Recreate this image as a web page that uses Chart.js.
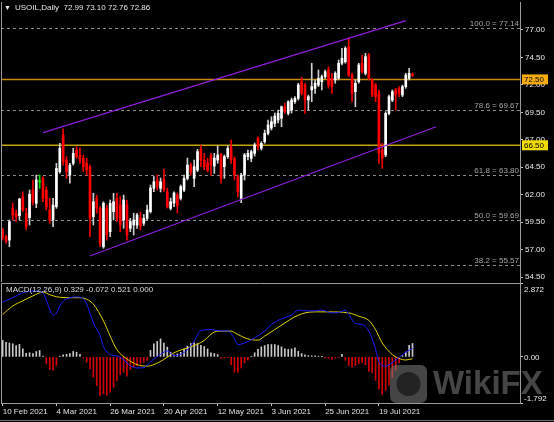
<!DOCTYPE html>
<html>
<head>
<meta charset="UTF-8">
<title>USOIL Daily</title>
<script src="https://cdn.jsdelivr.net/npm/chart.js@4"></script>
<style>
  html, body { margin: 0; padding: 0; background: #000; }
  body { width: 554px; height: 422px; position: relative; overflow: hidden; }
  canvas { position: absolute; left: 0; }
  #priceChart { top: 0; }
  #macdChart { top: 283px; }
</style>
</head>
<body>
<canvas id="priceChart" width="554" height="283"></canvas>
<canvas id="macdChart" width="554" height="139"></canvas>
<script>
const FONT = '"Liberation Sans", Arial, sans-serif';

// daily candles, 10 Feb 2021 .. 2 Aug 2021
const openP = [
  58.79,58.18,57.87,60.79,60.31,60.09,61.82,60.31,59.91,62.43,
  61.22,63.18,63.49,62.43,60.61,59.70,60.91,64.09,67.44,65.16,
  63.79,64.86,66.07,65.62,65.31,64.86,64.55,60.00,61.67,60.76,
  57.26,60.76,58.63,60.45,61.67,61.06,59.70,61.06,58.94,59.24,
  59.24,59.88,59.40,59.85,60.45,62.58,63.34,62.58,63.40,62.27,
  60.76,61.24,61.97,61.67,62.43,63.49,64.70,63.49,64.25,66.13,
  65.16,64.89,65.62,64.61,65.16,65.71,64.55,65.46,66.37,65.31,
  63.64,61.67,63.79,65.46,65.31,65.77,67.14,66.23,66.83,67.59,
  68.07,68.50,68.80,68.96,70.01,69.41,69.71,70.47,70.78,72.29,
  71.99,70.62,71.54,71.69,71.99,72.29,72.75,73.36,72.60,72.45,
  72.60,73.97,74.11,75.48,72.90,71.38,72.29,73.97,73.06,74.72,
  72.45,71.99,71.23,66.07,65.62,69.41,70.62,71.54,71.69,71.08,
  71.84,72.60,72.99
];
const highP = [
  58.94,58.33,59.70,61.24,60.61,61.67,62.27,60.76,62.43,63.34,
  63.79,63.79,63.64,62.73,61.67,61.67,64.86,66.68,67.98,65.46,
  64.86,66.23,66.37,66.28,65.62,65.31,64.70,62.13,61.97,60.91,
  61.36,61.06,61.52,62.13,62.13,61.82,61.97,61.52,59.85,60.31,
  60.31,60.42,60.20,61.06,62.88,63.64,63.79,63.52,64.34,62.61,
  61.70,62.27,62.16,62.88,63.79,65.34,64.89,65.16,66.13,66.53,
  65.77,65.34,65.77,65.77,66.44,65.77,65.62,66.44,66.98,65.46,
  63.79,63.95,65.77,66.07,66.07,66.71,67.28,66.83,67.89,68.80,
  69.10,69.44,69.71,70.08,70.32,70.56,70.81,70.93,72.15,72.69,
  72.15,71.08,73.97,72.45,73.36,72.90,73.36,73.66,73.06,73.20,
  74.27,75.33,75.48,76.30,73.06,72.45,73.97,74.72,74.88,74.88,
  72.60,72.15,71.54,66.68,69.56,71.08,71.54,71.69,71.84,71.99,
  73.06,73.51,73.10
];
const lowP = [
  57.87,57.57,57.26,59.70,59.54,59.70,60.45,58.79,59.24,61.06,
  60.82,62.58,61.36,60.61,59.40,59.09,60.76,63.95,64.70,63.49,
  63.04,64.70,65.31,64.86,64.09,63.79,58.18,59.24,60.31,57.26,
  57.12,57.87,58.18,59.70,59.54,58.63,58.94,57.87,58.63,58.33,
  58.94,58.79,59.20,59.70,60.33,62.27,62.43,62.25,62.27,60.79,
  60.61,60.91,60.33,61.52,62.27,63.34,63.79,62.73,64.09,64.55,
  64.25,64.07,63.79,63.95,64.86,63.04,63.49,65.31,64.86,63.34,
  61.82,61.27,63.34,65.16,65.00,65.52,66.07,66.07,66.68,67.44,
  67.89,68.19,68.53,68.19,69.41,69.26,69.44,70.32,70.62,71.08,
  69.41,69.71,70.47,71.23,71.84,71.54,72.60,71.69,71.23,72.15,
  72.45,73.81,73.97,72.75,70.47,70.01,72.15,73.06,72.90,72.45,
  70.93,70.47,64.86,64.40,65.46,69.26,70.47,69.71,70.93,70.93,
  71.69,72.45,72.76
];
const closeP = [
  58.18,57.72,59.54,60.15,60.00,61.61,60.61,59.09,62.04,61.36,
  63.34,63.18,61.67,60.91,59.70,61.06,64.40,66.23,65.00,64.09,
  64.70,65.77,65.46,65.16,64.55,64.25,59.85,61.36,60.76,57.57,
  61.22,58.33,61.22,61.36,59.85,59.24,61.52,58.33,59.54,59.70,
  60.15,59.15,59.85,60.61,62.61,63.18,62.73,63.18,62.43,60.91,
  61.36,62.16,61.00,62.73,63.49,64.70,64.09,64.55,65.92,65.16,
  64.55,64.25,64.70,65.34,65.62,63.49,65.46,66.23,65.16,63.79,
  62.27,63.79,65.62,65.77,65.92,66.53,66.37,66.68,67.59,68.35,
  68.65,69.17,69.41,70.01,69.56,70.47,70.62,70.78,71.99,71.23,
  70.62,70.93,71.84,72.15,72.60,72.75,73.20,71.99,71.84,73.06,
  73.97,74.42,75.33,72.90,71.23,72.15,73.81,73.20,74.57,72.60,
  71.08,70.93,65.77,65.31,69.41,70.93,71.38,71.08,71.23,71.84,
  72.90,73.06,72.86
];

// MACD histogram, one value per candle
const histValues = [
  0.64,0.57,0.54,0.51,0.44,0.49,0.31,0.14,0.16,0.13,
  0.21,0.25,0.03,-0.27,-0.49,-0.53,-0.34,0.03,0.08,0.10,
  0.13,0.21,0.18,0.10,-0.05,-0.21,-0.47,-0.79,-1.12,-1.50,
  -1.44,-1.50,-1.37,-1.18,-0.92,-0.70,-0.60,-0.75,-0.49,-0.40,
  -0.34,-0.27,-0.21,-0.14,0.25,0.51,0.60,0.70,0.54,0.38,
  0.18,0.08,0.12,0.18,0.30,0.42,0.52,0.55,0.52,0.45,
  0.40,0.31,0.16,0.13,0.09,-0.05,-0.05,-0.02,-0.30,-0.60,
  -0.60,-0.43,-0.23,-0.13,0.03,0.16,0.29,0.39,0.44,0.48,
  0.48,0.48,0.44,0.39,0.31,0.29,0.31,0.35,0.22,0.13,
  0.08,0.05,0.04,0.04,0.03,0.01,-0.04,-0.06,-0.10,-0.04,
  -0.01,0.10,-0.13,-0.34,-0.39,-0.34,-0.26,-0.21,-0.30,-0.56,
  -0.62,-0.91,-1.25,-1.45,-1.30,-1.10,-0.80,-0.52,-0.23,0.05,
  0.19,0.45,0.52
];

// MACD main (blue) and signal (yellow), [candle index, value]
const macdLine = [
  [0,2.13],[3,2.30],[6,2.49],[9,2.56],[12,2.49],[13,2.20],[14,1.85],[15,1.62],[16,1.70],
  [17,1.98],[18,2.16],[20,2.30],[22,2.33],[24,2.26],[25,2.06],[27,1.32],[29,0.82],[30,0.40],
  [32,0.09],[34,0.04],[36,-0.11],[38,-0.35],[40,-0.43],[42,-0.42],[43,-0.32],[45,-0.08],
  [47,0.10],[49,0.23],[51,0.05],[53,0.10],[55,0.28],[57,0.62],[59,1.02],[62,1.06],[65,1.01],
  [67,1.01],[69,0.70],[70,0.48],[72,0.54],[75,0.74],[78,1.01],[80,1.26],[83,1.48],[86,1.63],
  [88,1.82],[90,1.79],[93,1.79],[95,1.82],[98,1.71],[100,1.72],[102,1.82],[103,1.65],
  [105,1.30],[107,1.26],[109,1.00],[110,0.70],[111,0.30],[112,-0.20],[113,-0.34],[114,-0.36],
  [116,-0.22],[118,-0.02],[120,0.18],[122,0.329]
];
const signalLine = [
  [0,1.65],[3,1.98],[6,2.18],[9,2.37],[12,2.52],[14,2.42],[16,2.34],[20,2.30],[23,2.30],
  [25,2.24],[27,2.05],[30,1.40],[32,0.81],[34,0.28],[37,-0.08],[40,-0.30],[43,-0.36],
  [45,-0.30],[48,-0.10],[51,0.16],[54,0.31],[57,0.44],[60,0.64],[62,0.88],[64,1.00],
  [68,1.00],[70,0.87],[73,0.70],[76,0.65],[78,0.81],[81,1.06],[84,1.32],[87,1.56],[90,1.71],
  [93,1.75],[97,1.75],[103,1.71],[106,1.58],[109,1.42],[111,1.06],[113,0.54],[116,0.09],
  [118,-0.06],[120,-0.12],[122,-0.072]
];

// trend channel, [candle index, price]
const upperChannel = [[12,67.65],[120,77.85]];
const lowerChannel = [[26,56.42],[129,68.19]];

const fibPct = ['100.0','78.6','61.8','50.0','38.2'];
const fibPrice = [77.14,69.67,63.80,59.69,55.57];
const levelPrice = [72.50,66.50];

const priceTicks = [54.5,57,59.5,62,64.5,67,69.5,72,74.5,77];
const macdTicks = [2.872,0,-1.792];
const macdTickText = ['2.872','0.00','-1.792'];
const dateTickIndex = [0,16,32,48,64,80,96,112];
const dateTickLabels = ['10 Feb 2021','4 Mar 2021','26 Mar 2021','20 Apr 2021','12 May 2021','3 Jun 2021','25 Jun 2021','19 Jul 2021'];

const titleText = 'USOIL,Daily  72.99 73.10 72.76 72.86';
const macdTitle = 'MACD(12,26,9) 0.329 -0.072 0.521 0.000';

const X_MIN = -0.5, X_MAX = 154;
const levelLine = ['#c98a0c','#c4a40a'];
const levelBox = ['#f6ac10','#f0dc00'];

Chart.defaults.font.family = FONT;
Chart.defaults.font.size = 8;
Chart.defaults.animation = false;

function bodyColor(i) {
  if (closeP[i] > openP[i]) return '#ffffff';
  if (closeP[i] < openP[i]) return '#ff0000';
  return '#00e000';
}
function wickColor(i) {
  if (closeP[i] > openP[i]) return '#cfcfcf';
  if (closeP[i] < openP[i]) return '#ee0000';
  return '#00e000';
}
const toXY = arr => arr.map(p => ({x: p[0], y: p[1]}));

const priceOverlay = {
  id: 'priceOverlay',
  beforeDatasetsDraw(chart) {
    const {ctx, chartArea: a, scales: {y}} = chart;
    ctx.save();
    ctx.lineWidth = 1;
    ctx.setLineDash([3, 3]);
    ctx.strokeStyle = '#8c8c8c';
    fibPrice.forEach(p => {
      const py = Math.round(y.getPixelForValue(p)) + 0.5;
      ctx.beginPath(); ctx.moveTo(a.left, py); ctx.lineTo(a.right, py); ctx.stroke();
    });
    ctx.setLineDash([]);
    ctx.lineWidth = 1.5;
    levelPrice.forEach((p, k) => {
      const py = y.getPixelForValue(p);
      ctx.strokeStyle = levelLine[k];
      ctx.beginPath(); ctx.moveTo(a.left, py); ctx.lineTo(a.right, py); ctx.stroke();
    });
    ctx.restore();
  },
  afterDraw(chart) {
    const {ctx, chartArea: a, scales: {y}} = chart;
    ctx.save();
    ctx.font = '8px ' + FONT;
    // fibo labels
    ctx.fillStyle = '#a6a6a6';
    ctx.textAlign = 'right';
    ctx.textBaseline = 'bottom';
    fibPrice.forEach((p, k) => {
      const py = Math.round(y.getPixelForValue(p));
      ctx.fillText(fibPct[k] + ' = ' + p.toFixed(2), a.right - 1, py);
    });
    // price tags on the axis
    ctx.textAlign = 'left';
    ctx.textBaseline = 'middle';
    levelPrice.forEach((p, k) => {
      const py = y.getPixelForValue(p);
      ctx.fillStyle = levelBox[k];
      ctx.fillRect(a.right + 2, py - 5, 26, 10);
      ctx.fillStyle = '#000';
      ctx.fillText(p.toFixed(2), a.right + 4, py + 0.5);
    });
    // title
    ctx.fillStyle = '#e6e6e6';
    ctx.font = '7px ' + FONT;
    ctx.fillText('\u25BC', 4, 8);
    ctx.font = '8px ' + FONT;
    ctx.fillText(titleText, 15, 8);
    // frame
    ctx.strokeStyle = '#9a9a9a';
    ctx.lineWidth = 1;
    ctx.beginPath();
    ctx.moveTo(a.left + 0.5, a.top); ctx.lineTo(a.left + 0.5, a.bottom);
    ctx.stroke();
    ctx.restore();
  }
};

new Chart(document.getElementById('priceChart'), {
  type: 'bar',
  data: {
    datasets: [
      { type: 'line', data: toXY(upperChannel), borderColor: '#8e1fd8', borderWidth: 1.2, pointRadius: 0 },
      { type: 'line', data: toXY(lowerChannel), borderColor: '#8e1fd8', borderWidth: 1.2, pointRadius: 0 },
      { type: 'bar', data: openP.map((o, i) => ({x: i, y: [o, closeP[i]]})),
        backgroundColor: c => bodyColor(c.dataIndex), barThickness: 2, minBarLength: 1, grouped: false },
      { type: 'bar', data: lowP.map((l, i) => ({x: i, y: [l, highP[i]]})),
        backgroundColor: c => wickColor(c.dataIndex), barThickness: 1, grouped: false }
    ]
  },
  options: {
    responsive: false,
    animation: false,
    events: [],
    layout: { padding: { left: 1, top: 2, right: 0, bottom: 1 } },
    plugins: { legend: { display: false }, tooltip: { enabled: false } },
    scales: {
      x: { type: 'linear', min: X_MIN, max: X_MAX, offset: false, display: false, grid: { offset: false } },
      y: {
        position: 'right', min: 54.05, max: 79.55,
        afterBuildTicks: s => { s.ticks = priceTicks.map(v => ({value: v})); },
        afterFit: s => { s.width = 34; s.paddingTop = 0; s.paddingBottom = 0; },
        ticks: { color: '#e8e8e8', padding: 2, callback: v => Number(v).toFixed(2) },
        grid: { drawOnChartArea: false, drawTicks: true, tickLength: 3, tickColor: '#bdbdbd' },
        border: { display: true, color: '#9a9a9a' }
      }
    }
  },
  plugins: [priceOverlay]
});

const macdOverlay = {
  id: 'macdOverlay',
  afterDraw(chart) {
    const {ctx, chartArea: a, scales: {y}} = chart;
    ctx.save();
    ctx.strokeStyle = '#9a9a9a';
    ctx.lineWidth = 1;
    ctx.beginPath();
    ctx.moveTo(a.left, a.top + 0.5); ctx.lineTo(a.right, a.top + 0.5);
    ctx.moveTo(a.left + 0.5, a.top); ctx.lineTo(a.left + 0.5, a.bottom);
    ctx.stroke();
    ctx.strokeStyle = '#6e6e6e';
    ctx.beginPath();
    ctx.moveTo(0, chart.height - 1.5); ctx.lineTo(chart.width, chart.height - 1.5);
    ctx.stroke();
    ctx.font = '8px ' + FONT;
    ctx.textBaseline = 'middle';
    ctx.textAlign = 'left';
    ctx.fillStyle = '#dcdcdc';
    ctx.fillText(macdTitle, 6, a.top + 7);
    ctx.fillStyle = '#e8e8e8';
    macdTicks.forEach((v, k) => {
      let py = y.getPixelForValue(v);
      if (k === 0) py += 6;
      if (k === 2) py -= 5;
      ctx.fillText(macdTickText[k], a.right + 4, py + 1);
    });
    // watermark
    ctx.globalAlpha = 0.5;
    ctx.fillStyle = '#8a8a8a';
    const bx = 390, by = 82, bw = 37, bh = 38, r = 7;
    ctx.beginPath();
    ctx.moveTo(bx + r, by); ctx.lineTo(bx + bw - r, by); ctx.quadraticCurveTo(bx + bw, by, bx + bw, by + r);
    ctx.lineTo(bx + bw, by + bh - r); ctx.quadraticCurveTo(bx + bw, by + bh, bx + bw - r, by + bh);
    ctx.lineTo(bx + r, by + bh); ctx.quadraticCurveTo(bx, by + bh, bx, by + bh - r);
    ctx.lineTo(bx, by + r); ctx.quadraticCurveTo(bx, by, bx + r, by);
    ctx.fill();
    ctx.globalAlpha = 0.8;
    ctx.fillStyle = '#1a1a1a';
    ctx.beginPath();
    ctx.arc(bx + bw / 2, by + bh / 2, 12, 0, Math.PI * 2);
    ctx.fill();
    ctx.globalAlpha = 0.5;
    ctx.fillStyle = '#8a8a8a';
    ctx.font = 'bold 33px ' + FONT;
    ctx.fillText('WikiFX', 433, by + bh / 2 + 1);
    ctx.restore();
  }
};

new Chart(document.getElementById('macdChart'), {
  type: 'bar',
  data: {
    datasets: [
      { type: 'line', data: toXY(macdLine), borderColor: '#1c1cff', borderWidth: 1, pointRadius: 0, cubicInterpolationMode: 'monotone' },
      { type: 'line', data: toXY(signalLine), borderColor: '#e0d000', borderWidth: 1, pointRadius: 0, cubicInterpolationMode: 'monotone' },
      { type: 'bar', data: histValues.map((v, i) => ({x: i, y: v})),
        backgroundColor: c => histValues[c.dataIndex] >= 0 ? '#c8c8c8' : '#d00000',
        barThickness: 1, grouped: false }
    ]
  },
  options: {
    responsive: false,
    animation: false,
    events: [],
    layout: { padding: { left: 1, top: 0, right: 0, bottom: 0 } },
    plugins: { legend: { display: false }, tooltip: { enabled: false } },
    scales: {
      x: {
        type: 'linear', min: X_MIN, max: X_MAX, offset: false,
        afterBuildTicks: s => { s.ticks = dateTickIndex.map(v => ({value: v})); },
        afterFit: s => { s.height = 19; s.paddingLeft = 0; s.paddingRight = 0; },
        ticks: { autoSkip: false, maxRotation: 0, align: 'start', padding: 1, color: '#e0e0e0',
                 callback: (v, i) => dateTickLabels[i] },
        grid: { drawOnChartArea: false, drawTicks: true, tickLength: 3, tickColor: '#c8c8c8', offset: false },
        border: { display: true, color: '#9a9a9a' }
      },
      y: {
        position: 'right', min: -1.792, max: 2.872,
        afterBuildTicks: s => { s.ticks = macdTicks.map(v => ({value: v})); },
        afterFit: s => { s.width = 34; s.paddingTop = 0; s.paddingBottom = 0; },
        ticks: { display: false },
        grid: { drawOnChartArea: false, drawTicks: true, tickLength: 3, tickColor: '#c8c8c8' },
        border: { display: true, color: '#9a9a9a' }
      }
    }
  },
  plugins: [macdOverlay]
});
</script>
</body>
</html>
